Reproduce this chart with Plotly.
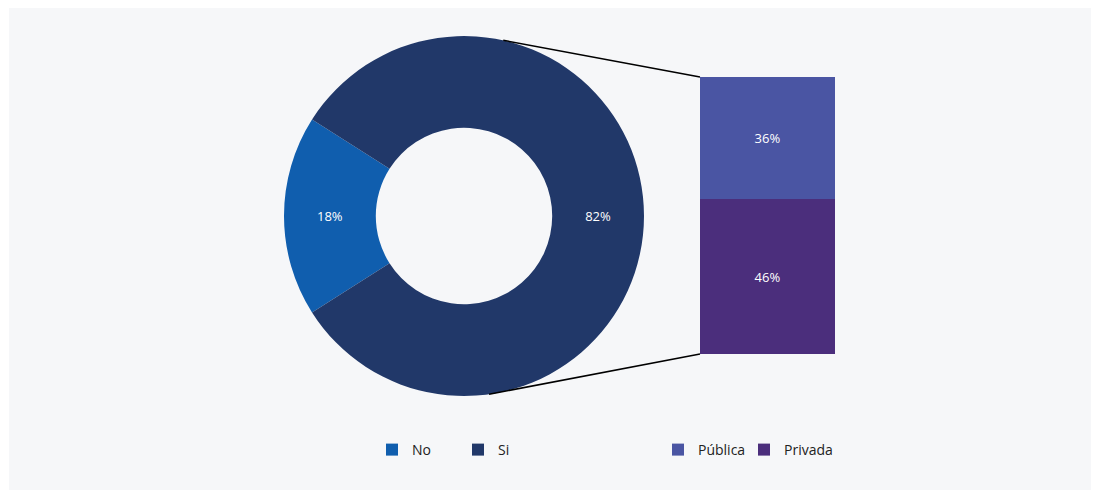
import plotly.graph_objects as go
import math

W, H = 1099, 490
OFF = 8  # page body margin

donut_labels = ["No", "Si"]
donut_values = [18, 82]
donut_colors = ["#105EAE", "#213869"]

bar_labels = ["Privada", "Pública"]
bar_values = [46, 36]
bar_colors = ["#4B2E7C", "#4A55A3"]

bg = "#F6F7F9"
font_family = "Open Sans, Noto Sans, sans-serif"

def px_x(p):
    return (p - OFF) / W

def px_y(p):
    return 1 - (p - OFF) / H

# geometry (pixels in window)
cx, cy, R = 464, 216, 180
pie_dom_x = [px_x(cx - R), px_x(cx + R)]
pie_dom_y = [px_y(cy + R), px_y(cy - R)]

bar_left, bar_right, bar_top, bar_bottom = 700, 835, 77, 354
total = sum(bar_values)

fig = go.Figure()

no_span = donut_values[0] / sum(donut_values) * 360
fig.add_trace(go.Pie(
    labels=donut_labels,
    values=donut_values,
    marker=dict(colors=donut_colors),
    hole=0.49,
    sort=False,
    direction="clockwise",
    rotation=270 - no_span / 2,
    textinfo="percent",
    texttemplate="%{percent:.0%}",
    textposition="inside",
    insidetextorientation="horizontal",
    textfont=dict(color="white", size=13, family=font_family),
    domain=dict(x=pie_dom_x, y=pie_dom_y),
    legend="legend",
    hoverinfo="skip",
))

bar_legends = {"Privada": "legend3", "Pública": "legend2"}
for lab, val, col in zip(bar_labels, bar_values, bar_colors):
    fig.add_trace(go.Bar(
        x=["Tipo"], y=[val], name=lab,
        marker=dict(color=col, line=dict(width=0)),
        text=[f"{val}%"], textposition="inside", insidetextanchor="middle",
        textfont=dict(color="white", size=13, family=font_family),
        width=1,
        legend=bar_legends[lab],
        hoverinfo="skip",
    ))

def circ(angle_deg):
    a = math.radians(angle_deg)
    return px_x(cx + R * math.cos(a)), px_y(cy - R * math.sin(a))

tx, ty = circ(77.4)
bx, by = circ(-82.0)
fig.add_shape(type="line", xref="paper", yref="paper",
              x0=tx, y0=ty, x1=px_x(bar_left), y1=px_y(bar_top),
              line=dict(color="black", width=1.5), layer="above")
fig.add_shape(type="line", xref="paper", yref="paper",
              x0=bx, y0=by, x1=px_x(bar_left), y1=px_y(bar_bottom),
              line=dict(color="black", width=1.5), layer="above")

# background panel
fig.add_shape(type="rect", xref="paper", yref="paper",
              x0=px_x(9), x1=px_x(1091), y0=0, y1=1,
              fillcolor=bg, line=dict(width=0), layer="below")

leg_common = dict(orientation="h", xanchor="left", yanchor="middle",
                  bgcolor="rgba(0,0,0,0)", itemwidth=30,
                  font=dict(size=14, color="#222222"))

fig.update_layout(
    width=W, height=H,
    margin=dict(l=0, r=0, t=0, b=0),
    paper_bgcolor="white",
    plot_bgcolor="rgba(0,0,0,0)",
    barmode="stack",
    bargap=0,
    font=dict(family=font_family, size=14, color="#222222"),
    xaxis=dict(domain=[px_x(bar_left), px_x(bar_right)], range=[-0.5, 0.5],
               visible=False, fixedrange=True),
    yaxis=dict(domain=[px_y(bar_bottom), px_y(bar_top)], range=[0, total],
               visible=False, fixedrange=True),
    legend=dict(x=px_x(372), y=px_y(450), entrywidth=41, entrywidthmode="pixels", **leg_common),
    legend2=dict(x=px_x(658), y=px_y(450), **leg_common),
    legend3=dict(x=px_x(744), y=px_y(450), **leg_common),
    showlegend=True,
)

fig.write_html("out.html")
